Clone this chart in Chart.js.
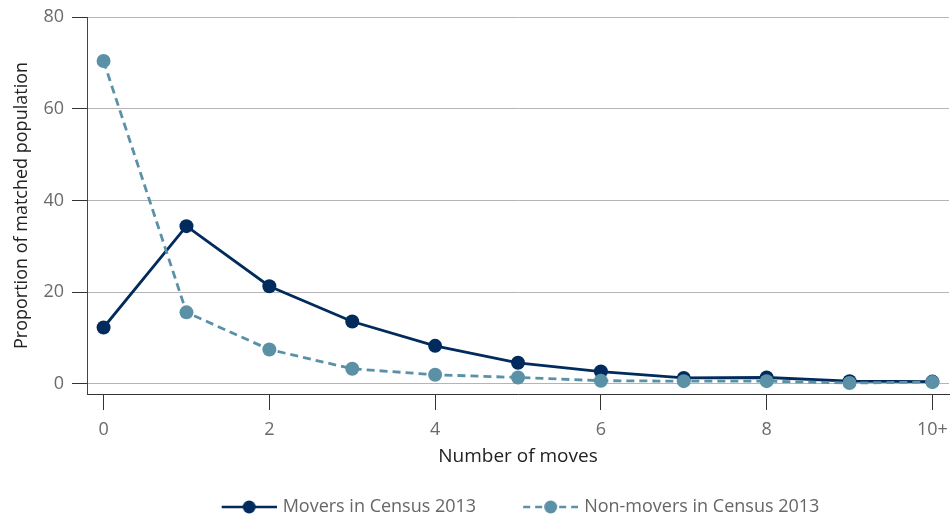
<!DOCTYPE html>
<html>
<head>
<meta charset="utf-8">
<script src="https://cdn.jsdelivr.net/npm/chart.js@4/dist/chart.umd.min.js"></script>
<style>
  html, body { margin: 0; padding: 0; background: #fff; }
  #wrap { width: 950px; height: 522px; }
</style>
</head>
<body>
<div id="wrap"><canvas id="movesChart" width="950" height="522"></canvas></div>
<script>
// number of moves (10 = "10+")
const moves = [0, 1, 2, 3, 4, 5, 6, 7, 8, 9, 10];
const xTickLabels = { 0: '0', 2: '2', 4: '4', 6: '6', 8: '8', 10: '10+' };
const yTicks = [0, 20, 40, 60, 80];

// proportion of matched population (%)
const movers = [12.3, 34.4, 21.3, 13.6, 8.3, 4.6, 2.7, 1.3, 1.4, 0.6, 0.5];
const nonMovers = [70.4, 15.6, 7.5, 3.3, 2.0, 1.4, 0.7, 0.6, 0.6, 0.2, 0.4];

const navy = 'rgb(0, 43, 92)';
const teal = 'rgb(91, 145, 167)';
const fontFamily = '"Open Sans", "Noto Sans", sans-serif';

// legend marker: line with a dot, with some empty room on the left
// (the room gives the gap between the two legend entries)
const iconBox = 89;
function legendIcon(color, dashed) {
  const c = document.createElement('canvas');
  c.width = iconBox + 6; c.height = 16;
  const g = c.getContext('2d');
  g.strokeStyle = color;
  g.lineWidth = 2.5;
  if (dashed) g.setLineDash([7, 5]);
  g.beginPath();
  g.moveTo(40, 8); g.lineTo(95, 8);
  g.stroke();
  g.setLineDash([]);
  g.fillStyle = color;
  g.beginPath();
  g.arc(67.5, 8, 6.5, 0, Math.PI * 2);
  g.fill();
  return c;
}

// legend sits under the plot area, nudged a bit lower
const legendShift = {
  id: 'legendShift',
  afterLayout(chart) {
    const lg = chart.legend;
    lg.left = chart.chartArea.left;
    lg.right = chart.chartArea.right - 32;
    lg.top += 4;
    lg.bottom += 4;
  }
};

const ctx = document.getElementById('movesChart').getContext('2d');
const movesChart = new Chart(ctx, {
  type: 'line',
  data: {
    datasets: [{
      label: 'Movers in Census 2013',
      data: moves.map((m, i) => ({ x: m, y: movers[i] })),
      borderColor: navy,
      backgroundColor: navy,
      borderWidth: 2.8,
      pointRadius: 7,
      pointHoverRadius: 7,
      pointBorderWidth: 0,
      order: 1,
      icon: legendIcon(navy, false)
    }, {
      label: 'Non-movers in Census 2013',
      data: moves.map((m, i) => ({ x: m, y: nonMovers[i] })),
      borderColor: teal,
      backgroundColor: teal,
      borderWidth: 2.8,
      borderDash: [8, 5],
      pointRadius: 7,
      pointHoverRadius: 7,
      pointBorderWidth: 0,
      order: 0,
      icon: legendIcon(teal, true)
    }]
  },
  plugins: [legendShift],
  options: {
    responsive: false,
    animation: false,
    layout: { autoPadding: false, padding: { left: 0, right: 1, top: 17, bottom: 0 } },
    plugins: {
      tooltip: { enabled: false },
      legend: {
        position: 'bottom',
        labels: {
          usePointStyle: true,
          pointStyleWidth: iconBox,
          padding: 10,
          color: '#666',
          font: { family: fontFamily, size: 18 },
          generateLabels: (chart) => chart.data.datasets.map((ds, i) => ({
            text: ds.label,
            pointStyle: ds.icon,
            fillStyle: ds.borderColor,
            strokeStyle: ds.borderColor,
            lineWidth: 0,
            fontColor: '#666',
            datasetIndex: i
          }))
        }
      }
    },
    scales: {
      x: {
        type: 'linear',
        min: -0.2,
        max: 10.2,
        afterBuildTicks: (axis) => {
          axis.ticks = Object.keys(xTickLabels).map(v => ({ value: +v }));
        },
        afterFit: (axis) => {
          axis.height = 90;
          axis.paddingLeft = 0;
          axis.paddingRight = 0;
        },
        ticks: {
          color: '#6a6a6a',
          padding: 9,
          font: { family: fontFamily, size: 18 },
          callback: (v) => xTickLabels[v]
        },
        grid: {
          drawOnChartArea: false,
          tickLength: 16,
          tickColor: '#333'
        },
        border: { color: '#333', width: 1 },
        title: {
          display: true,
          text: 'Number of moves',
          color: '#222',
          font: { family: fontFamily, size: 19 },
          padding: { top: 4, bottom: 16 }
        }
      },
      y: {
        min: -2.2,
        max: 80,
        afterBuildTicks: (axis) => {
          axis.ticks = yTicks.map(v => ({ value: v }));
        },
        afterFit: (axis) => {
          axis.width = 87;
          axis.paddingTop = 0;
          axis.paddingBottom = 0;
        },
        ticks: {
          color: '#6a6a6a',
          padding: 8,
          font: { family: fontFamily, size: 18 }
        },
        grid: {
          color: '#b5b5b5',
          lineWidth: 1,
          tickLength: 15,
          tickColor: '#333'
        },
        border: { color: '#444', width: 1 },
        title: {
          display: true,
          text: 'Proportion of matched population',
          color: '#222',
          font: { family: fontFamily, size: 18 },
          padding: { bottom: 0, top: 11 }
        }
      }
    }
  }
});
</script>
</body>
</html>
